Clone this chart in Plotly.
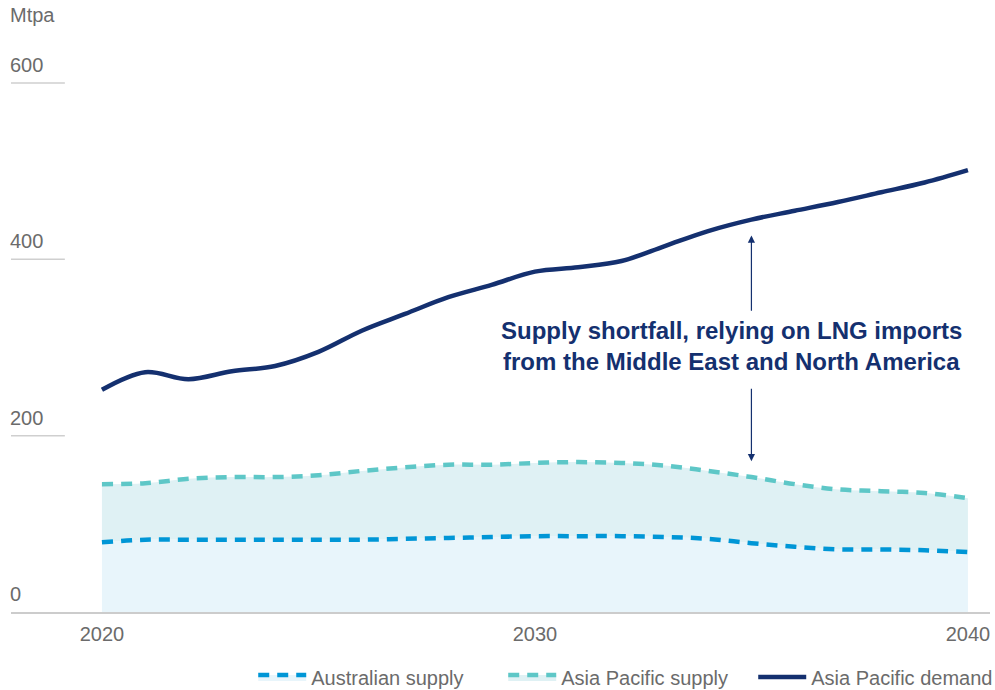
import plotly.graph_objects as go

years = list(range(2020, 2041))
australian_supply = [79, 82, 82, 82, 82, 82, 82, 83, 84, 85, 86, 86, 86, 85, 83, 78, 74, 71, 71, 70, 68]
asia_pacific_supply = [145, 146, 151, 153, 153, 155, 160, 164, 167, 167, 169, 170, 169, 166, 160, 153, 145, 139, 137, 135, 129]
asia_pacific_demand = [252, 272, 264, 273, 279, 295, 319, 338, 357, 371, 386, 391, 398, 415, 432, 445, 455, 465, 476, 487, 501]

y_ticks = [0, 200, 400, 600]
x_ticks = [2020, 2030, 2040]
grid_lines = [200, 400, 600]

NAVY = "#14306f"
TEAL = "#5ec7c7"
BLUE = "#0096d6"
GREY = "#6b6b6b"
FONT = "Liberation Sans, Arial, sans-serif"

fig = go.Figure()
fig.add_trace(go.Scatter(
    x=years, y=australian_supply, name="Australian supply", mode="lines",
    line=dict(color=BLUE, width=4.5, dash="11px,8px", shape="spline"),
    fill="tozeroy", fillcolor="#e8f5fb",
))
fig.add_trace(go.Scatter(
    x=years, y=asia_pacific_supply, name="Asia Pacific supply", mode="lines",
    line=dict(color=TEAL, width=4.5, dash="11px,8px", shape="spline"),
    fill="tonexty", fillcolor="#dff1f4",
))
fig.add_trace(go.Scatter(
    x=years, y=asia_pacific_demand, name="Asia Pacific demand", mode="lines",
    line=dict(color=NAVY, width=4.5, shape="spline"),
))

shapes = []
for g in grid_lines:
    shapes.append(dict(type="line", xref="paper", yref="y", x0=0, x1=0.055, y0=g, y1=g,
                       line=dict(color="#cfcfcf", width=1.5)))

annotations = [
    dict(text="Mtpa", xref="paper", yref="paper", x=0, y=1, xanchor="left", yanchor="bottom",
         xshift=-3, yshift=2, showarrow=False, font=dict(family=FONT, size=20, color=GREY)),
    dict(text="<b>Supply shortfall, relying on LNG imports</b>", xref="x", yref="y",
         x=2034.55, y=319, xanchor="center", yanchor="middle", showarrow=False,
         font=dict(family=FONT, size=24, color=NAVY)),
    dict(text="<b>from the Middle East and North America</b>", xref="x", yref="y",
         x=2034.55, y=284, xanchor="center", yanchor="middle", showarrow=False,
         font=dict(family=FONT, size=24, color=NAVY)),
    dict(text="", x=2035, y=427, ax=2035, ay=340, xref="x", yref="y", axref="x", ayref="y",
         showarrow=True, arrowhead=2, arrowsize=1.2, arrowwidth=1.2, arrowcolor=NAVY),
    dict(text="", x=2035, y=171, ax=2035, ay=255, xref="x", yref="y", axref="x", ayref="y",
         showarrow=True, arrowhead=2, arrowsize=1.2, arrowwidth=1.2, arrowcolor=NAVY),
]
for t in y_ticks:
    annotations.append(dict(text=str(t), xref="paper", yref="y", x=0, y=t,
                            xanchor="left", yanchor="bottom", xshift=-3, yshift=5,
                            showarrow=False, font=dict(family=FONT, size=20, color=GREY)))

fig.update_layout(
    width=995, height=690,
    margin=dict(l=11, r=5, t=30, b=78),
    paper_bgcolor="white", plot_bgcolor="white",
    font=dict(family=FONT, size=20, color=GREY),
    showlegend=True,
    legend=dict(orientation="h", traceorder="normal", xref="container", yref="container",
                x=0.2545, y=0.019, xanchor="left", yanchor="middle",
                font=dict(family=FONT, size=20, color=GREY),
                entrywidth=187, entrywidthmode="pixels", itemwidth=48),
    xaxis=dict(range=[2017.90, 2040.51], tickvals=x_ticks, showgrid=False, zeroline=False,
               showline=True, linecolor="#cccccc", linewidth=1.5, ticks="",
               ticklabelstandoff=3, automargin=False,
               tickfont=dict(family=FONT, size=20, color=GREY)),
    yaxis=dict(range=[0, 660], showgrid=False, zeroline=False, showline=False,
               showticklabels=False, ticks="", automargin=False),
    shapes=shapes,
    annotations=annotations,
)

fig.write_html("out.html", config={"displayModeBar": False},
               post_script="document.body.style.margin='0';")
